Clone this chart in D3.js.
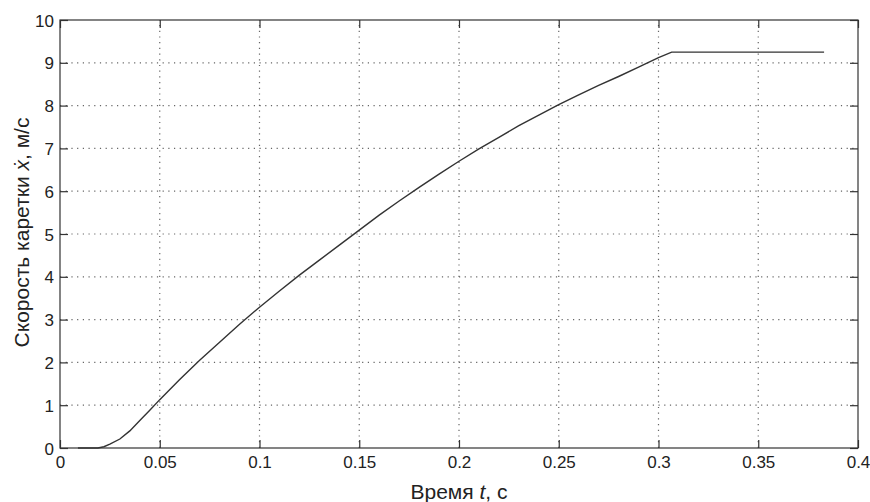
<!DOCTYPE html>
<html><head><meta charset="utf-8">
<script src="https://cdn.jsdelivr.net/npm/d3@7"></script>
<style>body{margin:0;background:#fff}svg{display:block}</style>
</head><body>
<script>
const timeS = [0.009,0.019,0.022,0.025,0.03,0.035,0.04,0.045,0.05,0.06,0.07,0.08,0.09,0.10,0.11,0.12,0.13,0.14,0.15,0.16,0.17,0.18,0.19,0.20,0.21,0.22,0.23,0.24,0.25,0.26,0.27,0.28,0.29,0.30,0.3066,0.383];
const speed = [0,0,0.03,0.09,0.21,0.40,0.64,0.88,1.13,1.60,2.05,2.47,2.89,3.29,3.67,4.04,4.39,4.74,5.09,5.44,5.77,6.09,6.40,6.70,6.99,7.26,7.53,7.78,8.02,8.25,8.47,8.68,8.90,9.12,9.25,9.25];
const xTicks = [0,0.05,0.1,0.15,0.2,0.25,0.3,0.35,0.4];
const xTickLabels = ["0","0.05","0.1","0.15","0.2","0.25","0.3","0.35","0.4"];
const yTicks = [0,1,2,3,4,5,6,7,8,9,10];

const W = 870, H = 502;
const m = {left:60, right:12, top:20, bottom:54};
const svg = d3.select("body").append("svg").attr("width",W).attr("height",H);
const x = d3.scaleLinear().domain([0,0.4]).range([m.left, W-m.right]);
const y = d3.scaleLinear().domain([0,10]).range([H-m.bottom, m.top]);
const font = "'Liberation Sans', Arial, sans-serif";
const ink = "#333";

// grid
const g = svg.append("g");
g.selectAll(".gx").data(xTicks.slice(1,-1)).join("line")
  .attr("x1",d=>x(d)).attr("x2",d=>x(d)).attr("y1",y(0)).attr("y2",y(10))
  .attr("stroke","#666").attr("stroke-width",1.2).attr("stroke-dasharray","1.2,4.5");
g.selectAll(".gy").data(yTicks.slice(1,-1)).join("line")
  .attr("y1",d=>y(d)).attr("y2",d=>y(d)).attr("x1",x(0)).attr("x2",x(0.4))
  .attr("stroke","#666").attr("stroke-width",1.2).attr("stroke-dasharray","1.2,4.5");

// axes
const tl = 8;
const ax = d3.axisBottom(x).tickValues(xTicks).tickFormat((d,i)=>xTickLabels[i]).tickSizeInner(-tl).tickSizeOuter(0).tickPadding(8);
const gxb = svg.append("g").attr("transform",`translate(0,${y(0)})`).call(ax);
const axT = d3.axisTop(x).tickValues(xTicks).tickFormat("").tickSizeInner(-tl).tickSizeOuter(0);
const gxt = svg.append("g").attr("transform",`translate(0,${y(10)})`).call(axT);
const ay = d3.axisLeft(y).tickValues(yTicks).tickSizeInner(-tl).tickSizeOuter(0).tickPadding(6);
const gyl = svg.append("g").attr("transform",`translate(${x(0)},0)`).call(ay);
const ayR = d3.axisRight(y).tickValues(yTicks).tickFormat("").tickSizeInner(-tl).tickSizeOuter(0);
const gyr = svg.append("g").attr("transform",`translate(${x(0.4)},0)`).call(ayR);
[gxb,gxt,gyl,gyr].forEach(a=>{
  a.select(".domain").remove();
  a.selectAll(".tick line").attr("stroke",ink).attr("stroke-width",1.2);
  a.selectAll("text").attr("font-family",font).attr("font-size",17).attr("fill","#222");
});
gyl.selectAll("text").attr("dy","0.36em");

// frame
svg.append("rect").attr("x",x(0)).attr("y",y(10)).attr("width",x(0.4)-x(0)).attr("height",y(0)-y(10))
  .attr("fill","none").attr("stroke",ink).attr("stroke-width",1.2);

// curve
const line = d3.line().x((d,i)=>x(timeS[i])).y(d=>y(d));
svg.append("path").datum(speed).attr("d",line).attr("fill","none").attr("stroke","#333").attr("stroke-width",1.4);

// labels
const xl = svg.append("text").attr("x",(x(0)+x(0.4))/2).attr("y",499).attr("text-anchor","middle")
  .attr("font-family",font).attr("font-size",21).attr("fill","#222");
xl.append("tspan").text("Время ");
xl.append("tspan").attr("font-style","italic").text("t");
xl.append("tspan").text(", с");

const yl = svg.append("text").attr("transform",`translate(28.5,${232.5}) rotate(-90)`).attr("text-anchor","middle")
  .attr("font-family",font).attr("font-size",21).attr("fill","#222");
yl.append("tspan").text("Скорость каретки ");
yl.append("tspan").attr("font-style","italic").text("ẋ");
yl.append("tspan").text(", м/с");
</script>
</body></html>
